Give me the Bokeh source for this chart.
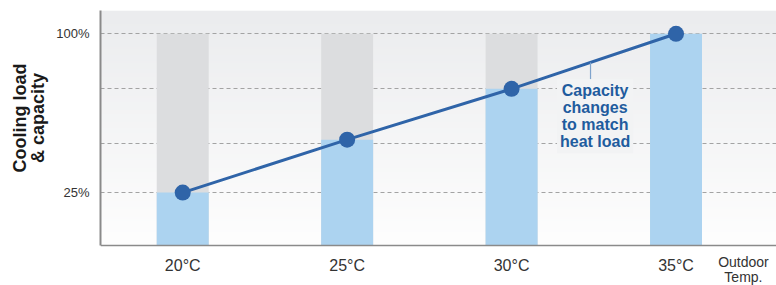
import numpy as np
from bokeh.plotting import figure
from bokeh.models import FixedTicker, Label, Range1d, Span
from bokeh.core.properties import value
from bokeh.embed import file_html
from bokeh.resources import INLINE

# ---- data ----
temp_labels = ["20°C", "25°C", "30°C", "35°C"]
capacity = [25, 50, 74, 100]          # % cooling capacity (blue bars / line)
full_load = [100, 100, 100, 100]      # % full capacity (grey bars)
y_ticks = [25, 48, 74, 100]
y_tick_text = {25: "25%", 48: "", 74: "", 100: "100%"}
x_title = "Outdoor\nTemp."
y_title_lines = ["Cooling load", "& capacity"]
note_text = "Capacity\nchanges\nto match\nheat load"

xs = list(range(len(temp_labels)))
x_title_pos = 3.41
y_top = 111

p = figure(width=776, height=285, output_backend="svg", toolbar_location=None,
           x_range=Range1d(-0.5, 3.611), y_range=Range1d(-18.9, y_top),
           min_border_left=100, min_border_right=0, min_border_top=10, min_border_bottom=0)
p.outline_line_color = None
p.background_fill_color = "white"
p.border_fill_color = "white"

# gradient background (plot area above the baseline)
n = 120
img = np.zeros((n, 2), dtype=np.uint32)
view = img.view(dtype=np.uint8).reshape((n, 2, 4))
t = np.linspace(0, 1, n)
top = np.array([235, 236, 238]); bot = np.array([254, 254, 254])
for i in range(n):
    c = bot + (top - bot) * t[i]
    view[i, :, 0] = int(c[0]); view[i, :, 1] = int(c[1]); view[i, :, 2] = int(c[2]); view[i, :, 3] = 255
p.image_rgba(image=[img], x=-0.5, y=0, dw=4.111, dh=y_top, level="image")

# grid
p.xgrid.visible = False
p.ygrid.ticker = FixedTicker(ticks=y_ticks)
p.ygrid.grid_line_color = "#a3a3a3"
p.ygrid.grid_line_dash = "4 3"
p.ygrid.grid_line_width = 1

# bars
bw = 0.316
p.vbar(x=xs, top=full_load, width=bw, color="#dcdddf", line_color=None)
p.vbar(x=xs, top=capacity, width=bw, color="#acd3f0", line_color=None)

# baseline (x axis line)
p.add_layout(Span(location=0, dimension="width", line_color="#8a8a8a", line_width=1.5))

# line + markers
p.line(xs, capacity, line_color="#2f64a8", line_width=3)
p.scatter(xs, capacity, size=16, fill_color="#2f64a8", line_color=None)

# leader + note
lx = 2.48
ly_top = float(np.interp(lx, xs, capacity))
p.segment(x0=[lx], y0=[78.5], x1=[lx], y1=[ly_top], line_color="#7fa3cc", line_width=1.2)
p.add_layout(Label(x=2.508, y=78.5, text=note_text, text_align="center", text_baseline="top",
                   text_font="Liberation Sans", text_font_style="bold", text_font_size="16px",
                   text_color="#1f5c9e", text_line_height=1.0,
                   background_fill_color="#f2f3f4", padding=3))

# x tick labels (category names) under the baseline
p.text(x=xs, y=[0] * len(xs), text=temp_labels, y_offset=12,
       text_align="center", text_baseline="top", text_font=value("Liberation Sans"),
       text_font_size="16px", text_color="#333333")
p.text(x=[x_title_pos], y=[0], text=[x_title], y_offset=9,
       text_align="center", text_baseline="top", text_font=value("Liberation Sans"),
       text_font_size="14px", text_color="#333333", text_line_height=0.9)
p.xaxis.visible = False

# y axis
pad = "\u00a0" * 12
p.yaxis.bounds = (0, y_top)
p.yaxis.ticker = FixedTicker(ticks=y_ticks)
p.yaxis.major_label_overrides = y_tick_text
p.yaxis.axis_label = "\n".join(pad + s for s in y_title_lines)
p.yaxis.axis_label_text_font = "Liberation Sans"
p.yaxis.axis_label_text_font_style = "bold"
p.yaxis.axis_label_text_font_size = "18px"
p.yaxis.axis_label_text_color = "#1a1a1a"
p.yaxis.axis_label_text_line_height = 0.9
p.yaxis.axis_label_standoff = 5
p.yaxis.axis_line_color = "#8a8a8a"
p.yaxis.axis_line_width = 2
p.yaxis.major_tick_line_color = None
p.yaxis.minor_tick_line_color = None
p.yaxis.major_tick_out = 0
p.yaxis.major_label_standoff = 11
p.yaxis.major_label_text_font = "Liberation Sans"
p.yaxis.major_label_text_font_size = "13px"
p.yaxis.major_label_text_color = "#333333"

open("out.html", "w").write(file_html(p, INLINE))
